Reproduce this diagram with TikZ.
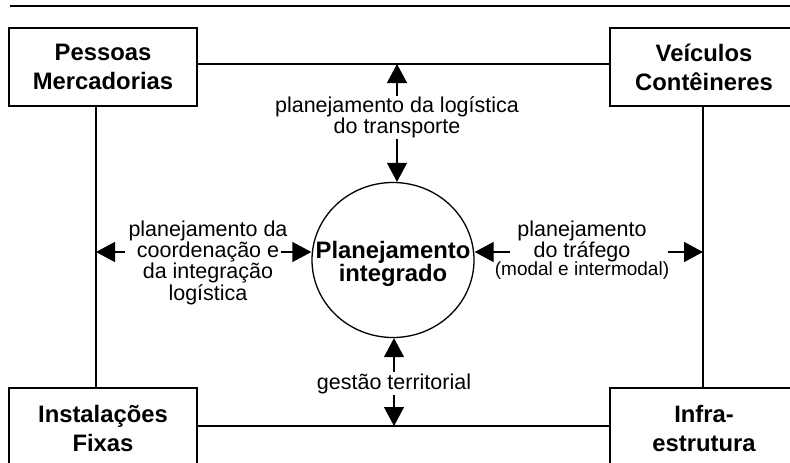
\documentclass[tikz,border=0pt]{standalone}
\usepackage{fontspec}
\setmainfont{Liberation Sans}
\usetikzlibrary{arrows.meta,shapes.geometric}
\begin{document}
\begin{tikzpicture}[x=1pt,y=-1pt,
  boxnode/.style={draw, line width=1.5pt, minimum width=188pt, minimum height=78pt, inner sep=0pt, align=center, font=\fontsize{23.8}{29}\selectfont\bfseries},
  conn/.style={line width=1.3pt},
  arr/.style={line width=1.3pt, -{Triangle[width=20pt,length=19pt]}},
  lbl/.style={align=center, inner sep=0pt, font=\fontsize{21.5}{20}\selectfont},
  boldtxt/.style={align=center, inner sep=0pt, font=\fontsize{23.8}{23}\selectfont\bfseries},
  ring/.style={draw, ellipse, line width=1.3pt, minimum width=162pt, minimum height=155pt, inner sep=0pt}]
\useasboundingbox (0,0) rectangle (790,463);
\clip (0,0) rectangle (790,463);
% title rule
\coordinate (r0) at (10,6);
\coordinate (r1) at (790,6);
\draw[line width=2.5pt] (r0) -- (r1);
% boxes
\node[boxnode] (pm) at (103,67) {Pessoas\\Mercadorias};
\node[boxnode] (vc) at (704,67) {Veículos\\Contêineres};
\node[boxnode, minimum height=80pt] (if) at (103,428) {Instalações\\Fixas};
\node[boxnode, minimum height=80pt] (ie) at (704,428) {Infra-\\estrutura};
% frame connectors
\coordinate (th) at ([yshift=3pt]pm.east);
\coordinate (lv) at ([xshift=-7pt]pm.south);
\coordinate (rv) at ([xshift=-1pt]vc.south);
\coordinate (bh) at ([yshift=2pt]if.east);
\draw[conn] (th) -- ([yshift=3pt]vc.west);
\draw[conn] (lv) -- ([xshift=-7pt]if.north);
\draw[conn] (rv) -- ([xshift=-1pt]ie.north);
\draw[conn] (bh) -- ([yshift=2pt]ie.west);
% centre
\node[ring] (pi) at (393,260) {};
\node[boldtxt, yshift=-4pt] (pit) at (pi.center) {Planejamento\\integrado};
% top label
\node[lbl] (tl) at (397,117.4) {planejamento da logística\\do transporte};
\draw[arr] ([yshift=1pt]tl.north) -- (tl.north |- th);
\draw[arr] ([yshift=-1pt]tl.south) -- (tl.south |- pi.north);
% left label
\node[lbl, font=\fontsize{21.5}{19}\selectfont] (ll) at (208,263) {planejamento da\\coordenação e\\da integração\\logística};
\coordinate (la) at (125,252);
\coordinate (lb) at (281,252);
\draw[arr] (la) -- (la -| lv);
\draw[arr] (lb) -- (lb -| pi.west);
% right label
\node[lbl] (rl) at (582,250) {planejamento\\do tráfego\\[-2pt]{\fontsize{19}{19}\selectfont (modal e intermodal)}};
\coordinate (ra) at (510,252);
\coordinate (rb) at (668,252);
\draw[arr] (ra) -- (ra -| pi.east);
\draw[arr] (rb) -- (rb -| rv);
% bottom label
\node[lbl] (bl) at (394,384) {gestão territorial};
\draw[arr] ([yshift=2pt]bl.north) -- (bl.north |- pi.south);
\draw[arr] ([yshift=-1pt]bl.south) -- (bl.south |- bh);
\end{tikzpicture}
\end{document}
